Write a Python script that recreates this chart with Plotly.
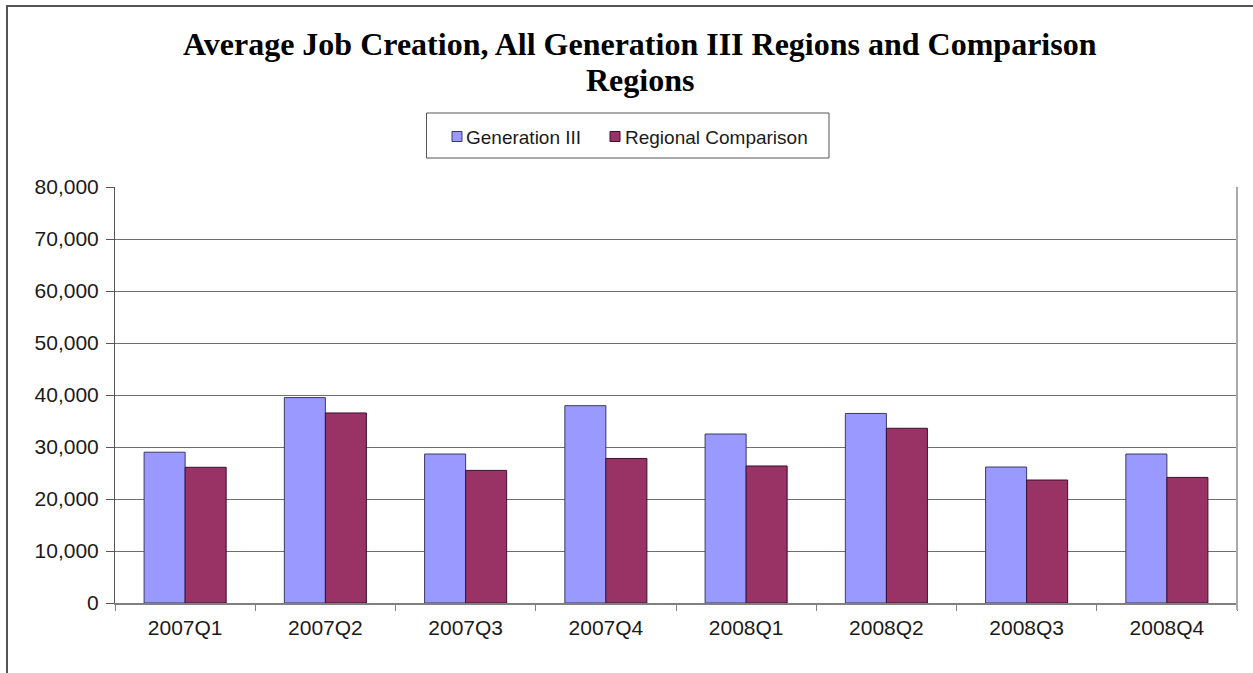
import plotly.graph_objects as go

categories = ["2007Q1", "2007Q2", "2007Q3", "2007Q4", "2008Q1", "2008Q2", "2008Q3", "2008Q4"]
generation_iii = [29000, 39500, 28650, 37950, 32500, 36450, 26150, 28650]
regional_comparison = [26100, 36550, 25500, 27800, 26350, 33600, 23650, 24150]
series_names = ["Generation III", "Regional Comparison"]
series_colors = ["#9999FF", "#993366"]
title_lines = ["Average Job Creation, All Generation III Regions and Comparison", "Regions"]

W, H = 1253, 673
L, R, T, B = 115, 16, 187, 70
pw, ph = W - L - R, H - T - B

def px_x(p):
    return (p - L) / pw

def px_y(p):
    return (H - B - p) / ph

fig = go.Figure()
fig.add_trace(go.Bar(x=categories, y=generation_iii, name=series_names[0],
                     marker=dict(color=series_colors[0], line=dict(color="#3a3a66", width=1))))
fig.add_trace(go.Bar(x=categories, y=regional_comparison, name=series_names[1],
                     marker=dict(color=series_colors[1], line=dict(color="#3a1030", width=1))))

fig.update_layout(
    width=W, height=H,
    margin=dict(l=L, r=R, t=T, b=B),
    paper_bgcolor="white", plot_bgcolor="white",
    barmode="group", bargap=0.415, bargroupgap=0,
    font=dict(family="Liberation Sans, Arial", size=21, color="#1a1a1a"),
    showlegend=False,
)
fig.update_yaxes(range=[0, 80000], dtick=10000, tickformat=",", showgrid=True,
                 gridcolor="#6e6e6e", gridwidth=1, showline=True, linecolor="#555555",
                 linewidth=1, ticks="outside", ticklen=8, tickcolor="#555555",
                 zeroline=False, ticklabelstandoff=3)
fig.update_xaxes(showline=True, linecolor="#808080", linewidth=2, ticks="outside",
                 tickson="boundaries", ticklen=6, tickcolor="#808080", showgrid=False,
                 ticklabelstandoff=5)

# title (two lines, Excel-style tight line spacing)
for txt, yc in zip(title_lines, [44, 80]):
    fig.add_annotation(text="<b>" + txt + "</b>", xref="paper", yref="paper",
                       x=px_x(639.5), y=px_y(yc), xanchor="center", yanchor="middle",
                       showarrow=False,
                       font=dict(family="Liberation Serif, Times New Roman", size=32, color="black"))

# legend box
fig.add_shape(type="rect", xref="paper", yref="paper", x0=px_x(426.5), x1=px_x(829),
              y0=px_y(158), y1=px_y(113), line=dict(color="#555555", width=1), fillcolor="white")
legend_items = [(452, 464), (610, 623)]
for (sx, tx), name, col, lc in zip(legend_items, series_names, series_colors, ["#3a3a66", "#3a1030"]):
    fig.add_shape(type="rect", xref="paper", yref="paper", x0=px_x(sx), x1=px_x(sx + 10),
                  y0=px_y(141.5), y1=px_y(131.5), line=dict(color=lc, width=1), fillcolor=col)
    fig.add_annotation(text=name, xref="paper", yref="paper", x=px_x(tx), y=px_y(137),
                       xanchor="left", yanchor="middle", showarrow=False,
                       font=dict(size=19, color="#1a1a1a"))

# outer chart border (extends past the right and bottom edges)
fig.add_shape(type="line", xref="paper", yref="paper", x0=px_x(7), x1=px_x(7),
              y0=px_y(5), y1=px_y(700), line=dict(color="#555555", width=2))
fig.add_shape(type="line", xref="paper", yref="paper", x0=px_x(6), x1=px_x(1300),
              y0=px_y(6), y1=px_y(6), line=dict(color="#555555", width=2))
# plot area right border
fig.add_shape(type="line", xref="paper", yref="paper", x0=1, x1=1,
              y0=px_y(610), y1=1, line=dict(color="#aaaaaa", width=2))

fig.write_html("out.html")
